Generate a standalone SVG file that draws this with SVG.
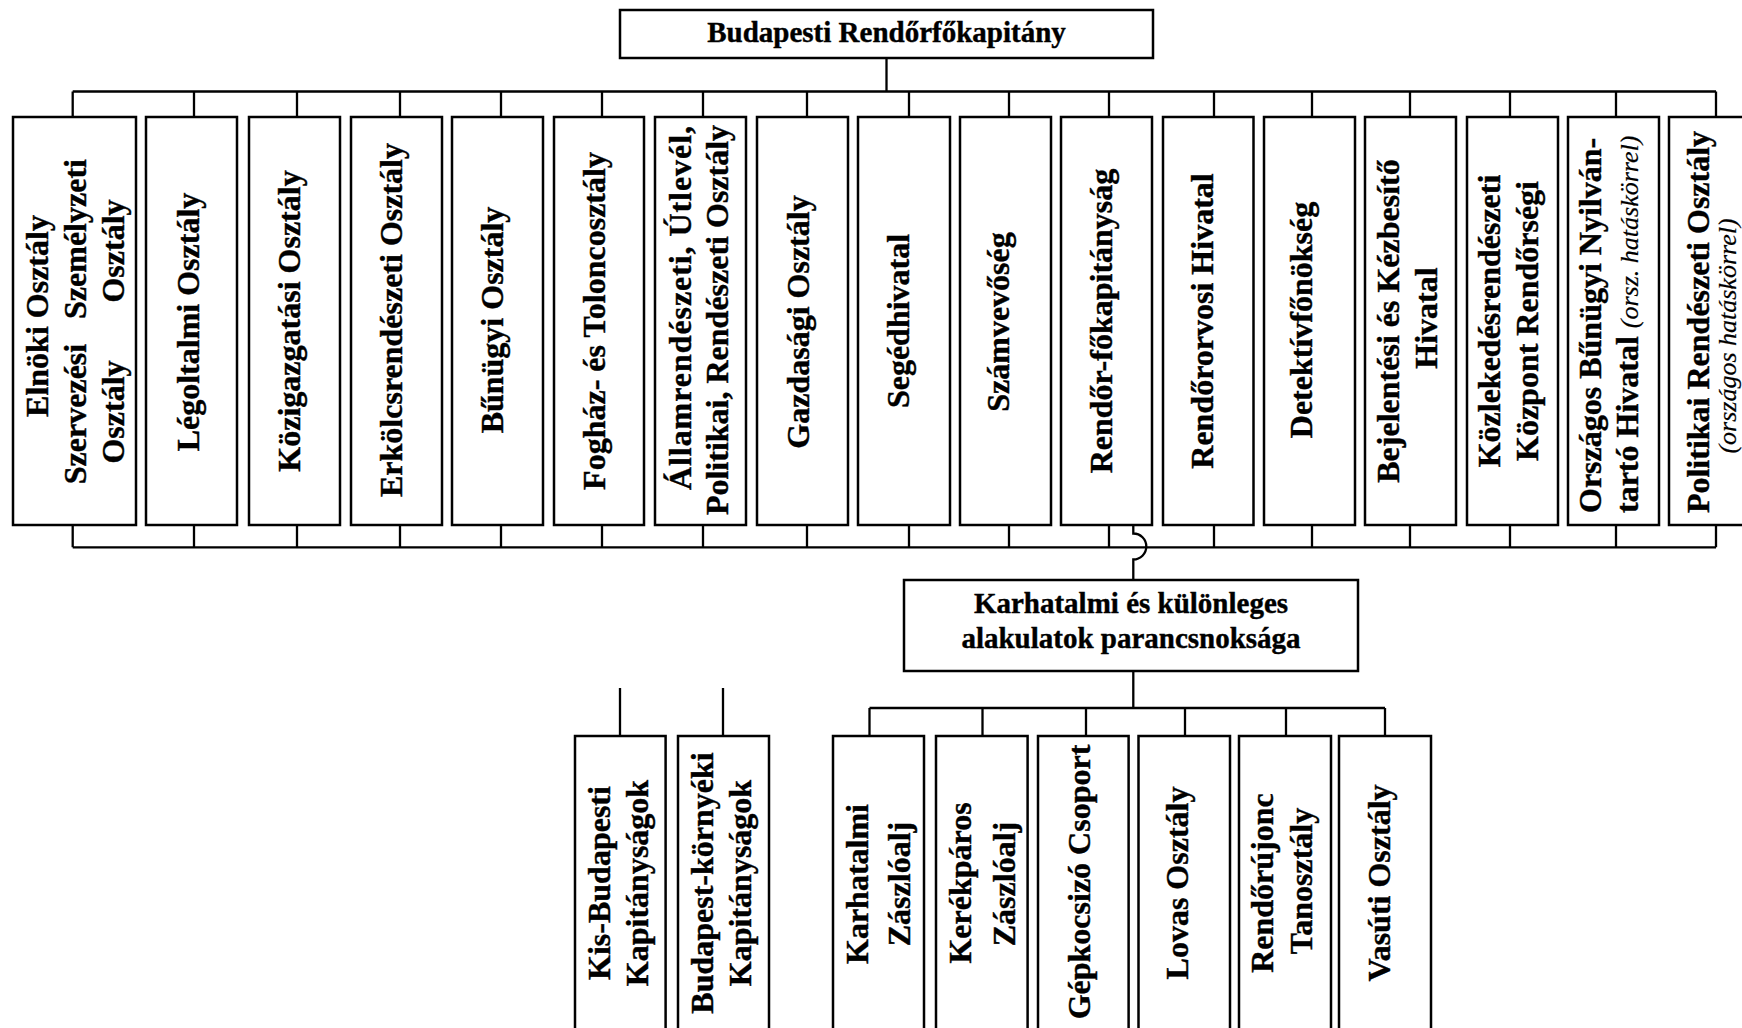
<svg xmlns="http://www.w3.org/2000/svg" width="1742" height="1028" viewBox="0 0 1742 1028">
<style>
.box{fill:#fff;stroke:#000;stroke-width:2.5}
.ln{fill:none;stroke:#000;stroke-width:2.3}
text{font-family:"Liberation Serif","Times New Roman",serif;font-weight:bold;fill:#000;stroke:#000;stroke-width:0.4}
.v{font-size:32px;text-anchor:middle}
.s{font-size:32px;text-anchor:start}
.h{font-size:29px;text-anchor:middle}
.it{font-style:italic;font-weight:normal;font-size:26px;stroke-width:0.2}
</style>
<rect width="1742" height="1028" fill="#fff"/>
<g id="connectors">
<path class="ln" d="M886.5,58V91.5M72.7,91.5H1716M72.7,547.3H1716"/>
<path class="ln" d="M72.7,91.5V117M194,91.5V117M297,91.5V117M400,91.5V117M501,91.5V117M602,91.5V117M703,91.5V117M807,91.5V117M909,91.5V117M1009,91.5V117M1109,91.5V117M1214,91.5V117M1312,91.5V117M1410,91.5V117M1510,91.5V117M1616,91.5V117M1716,91.5V117"/>
<path class="ln" d="M72.7,525V547.3M194,525V547.3M297,525V547.3M400,525V547.3M501,525V547.3M602,525V547.3M703,525V547.3M807,525V547.3M909,525V547.3M1009,525V547.3M1109,525V547.3M1214,525V547.3M1312,525V547.3M1410,525V547.3M1510,525V547.3M1616,525V547.3M1716,525V547.3"/>
<path class="ln" d="M1133.3,525V533.5A13,13 0 0 1 1133.3,559.5V580"/>
<path class="ln" d="M1133.3,671V708M869.5,708H1385M869.5,708V736M982.5,708V736M1086,708V736M1185,708V736M1286,708V736M1385,708V736"/>
<path class="ln" d="M620,688V736M723,688V736"/>
</g>
<g id="n-top"><rect class="box" x="620" y="10" width="533" height="48"/><text class="h" x="886.5" y="42">Budapesti Rendőrfőkapitány</text></g>
<g id="n1"><rect class="box" x="13" y="117" width="123" height="408"/>
<text class="v" transform="translate(48,316) rotate(-90)">Elnöki Osztály</text>
<text class="v" transform="translate(86,414) rotate(-90)">Szervezési</text>
<text class="v" transform="translate(86,239) rotate(-90)">Személyzeti</text>
<text class="v" transform="translate(124,412) rotate(-90)">Osztály</text>
<text class="v" transform="translate(124,251) rotate(-90)">Osztály</text></g>
<g id="n2"><rect class="box" x="146" y="117" width="91" height="408"/><text class="v" transform="translate(199,322) rotate(-90)">Légoltalmi Osztály</text></g>
<g id="n3"><rect class="box" x="249" y="117" width="91" height="408"/><text class="v" transform="translate(300,321) rotate(-90)">Közigazgatási Osztály</text></g>
<g id="n4"><rect class="box" x="351" y="117" width="91" height="408"/><text class="v" transform="translate(402,320) rotate(-90)">Erkölcsrendészeti Osztály</text></g>
<g id="n5"><rect class="box" x="452" y="117" width="91" height="408"/><text class="v" transform="translate(503,320) rotate(-90)">Bűnügyi Osztály</text></g>
<g id="n6"><rect class="box" x="554" y="117" width="90" height="408"/><text class="v" transform="translate(605,321) rotate(-90)">Fogház- és Toloncosztály</text></g>
<g id="n7"><rect class="box" x="655" y="117" width="91" height="408"/>
<text class="s" transform="translate(691,490) rotate(-90)" textLength="364" lengthAdjust="spacing">Államrendészeti, Útlevél,</text>
<text class="v" transform="translate(728,320) rotate(-90)">Politikai, Rendészeti Osztály</text></g>
<g id="n8"><rect class="box" x="757" y="117" width="91" height="408"/><text class="v" transform="translate(809,322) rotate(-90)">Gazdasági Osztály</text></g>
<g id="n9"><rect class="box" x="858" y="117" width="92" height="408"/><text class="v" transform="translate(909,321) rotate(-90)">Segédhivatal</text></g>
<g id="n10"><rect class="box" x="960" y="117" width="91" height="408"/><text class="v" transform="translate(1009,322) rotate(-90)">Számvevőség</text></g>
<g id="n11"><rect class="box" x="1061" y="117" width="91" height="408"/><text class="v" transform="translate(1112,321) rotate(-90)">Rendőr-főkapitányság</text></g>
<g id="n12"><rect class="box" x="1163" y="117" width="90.5" height="408"/><text class="v" transform="translate(1213,321) rotate(-90)">Rendőrorvosi Hivatal</text></g>
<g id="n13"><rect class="box" x="1264" y="117" width="91" height="408"/><text class="v" transform="translate(1312,320) rotate(-90)">Detektívfőnökség</text></g>
<g id="n14"><rect class="box" x="1365" y="117" width="91" height="408"/>
<text class="v" transform="translate(1399,321) rotate(-90)">Bejelentési és Kézbesítő</text>
<text class="v" transform="translate(1437,318) rotate(-90)">Hivatal</text></g>
<g id="n15"><rect class="box" x="1467" y="117" width="91" height="408"/>
<text class="v" transform="translate(1500,321) rotate(-90)">Közlekedésrendészeti</text>
<text class="v" transform="translate(1538,321) rotate(-90)">Központ Rendőrségi</text></g>
<g id="n16"><rect class="box" x="1568" y="117" width="91" height="408"/>
<text class="s" transform="translate(1601,513) rotate(-90)">Országos Bűnügyi Nyilván-</text>
<text class="s" transform="translate(1638,513) rotate(-90)">tartó Hivatal <tspan class="it">(orsz. hatáskörrel)</tspan></text></g>
<g id="n17"><rect class="box" x="1669" y="117" width="91" height="408"/>
<text class="v" transform="translate(1709,322) rotate(-90)">Politikai Rendészeti Osztály</text>
<text class="v it" transform="translate(1736,336) rotate(-90)">(országos hatáskörrel)</text></g>
<g id="n-karhatalmi"><rect class="box" x="904" y="580" width="454" height="91"/>
<text class="h" x="1131" y="613">Karhatalmi és különleges</text>
<text class="h" x="1131" y="648">alakulatok parancsnoksága</text></g>
<g id="n-kisbp"><rect class="box" x="575" y="736" width="90.6" height="300"/>
<text class="v" transform="translate(610,883) rotate(-90)">Kis-Budapesti</text>
<text class="v" transform="translate(648,883) rotate(-90)">Kapitányságok</text></g>
<g id="n-bpkornyeki"><rect class="box" x="678" y="736" width="91" height="300"/>
<text class="v" transform="translate(712.6,883) rotate(-90)">Budapest-környéki</text>
<text class="v" transform="translate(751,883) rotate(-90)">Kapitányságok</text></g>
<g id="n-karhzaszlo"><rect class="box" x="833" y="736" width="91" height="300"/>
<text class="v" transform="translate(868,884) rotate(-90)">Karhatalmi</text>
<text class="v" transform="translate(910,884) rotate(-90)">Zászlóalj</text></g>
<g id="n-kerekparos"><rect class="box" x="936" y="736" width="91.6" height="300"/>
<text class="v" transform="translate(971,883) rotate(-90)">Kerékpáros</text>
<text class="v" transform="translate(1015,884) rotate(-90)">Zászlóalj</text></g>
<g id="n-gepkocsizo"><rect class="box" x="1038" y="736" width="90.6" height="300"/>
<text class="v" transform="translate(1090,882) rotate(-90)">Gépkocsizó Csoport</text></g>
<g id="n-lovas"><rect class="box" x="1138.5" y="736" width="91.5" height="300"/>
<text class="v" transform="translate(1188,883) rotate(-90)">Lovas Osztály</text></g>
<g id="n-ujonc"><rect class="box" x="1239" y="736" width="92" height="300"/>
<text class="v" transform="translate(1273,883) rotate(-90)">Rendőrújonc</text>
<text class="v" transform="translate(1312,881) rotate(-90)">Tanosztály</text></g>
<g id="n-vasuti"><rect class="box" x="1339" y="736" width="92" height="300"/>
<text class="v" transform="translate(1390,883) rotate(-90)">Vasúti Osztály</text></g>
</svg>
